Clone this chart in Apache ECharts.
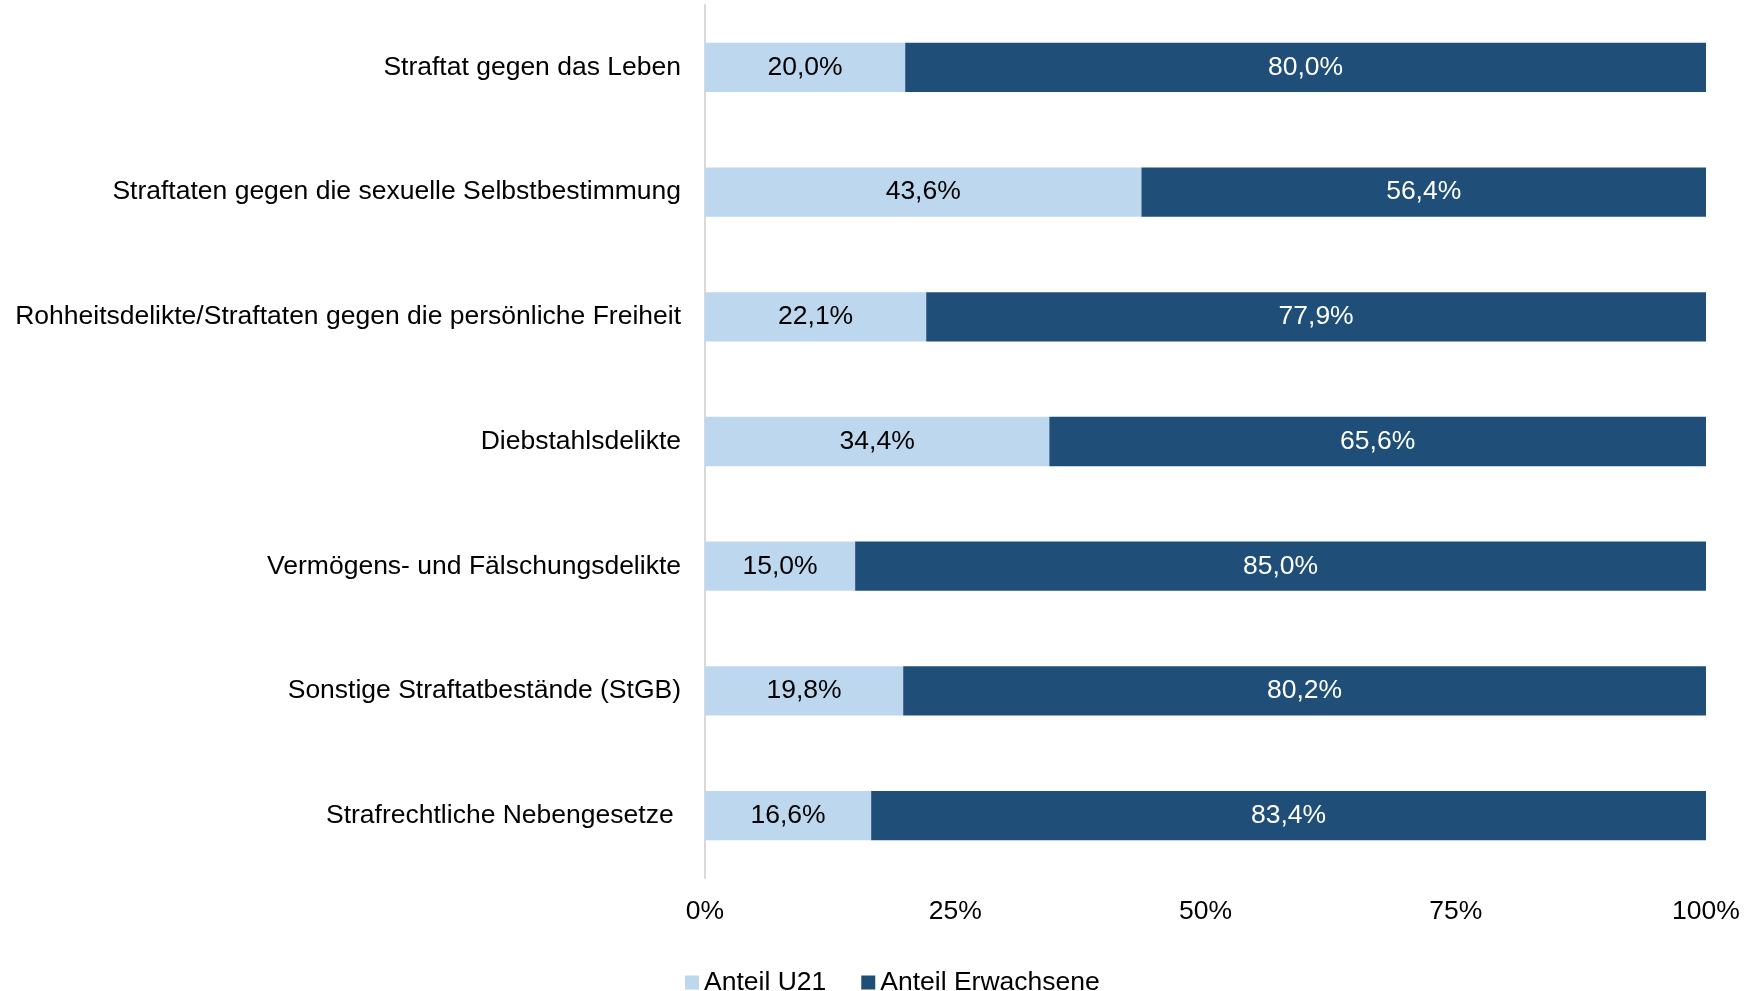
<!DOCTYPE html>
<html>
<head>
<meta charset="utf-8">
<script src="https://cdn.jsdelivr.net/npm/echarts@6/dist/echarts.min.js"></script>
<style>
html,body{margin:0;padding:0;background:#fff;}
#chart{width:1759px;height:991px;}
</style>
</head>
<body>
<div id="chart"></div>
<script>
const categories = [
  "Straftat gegen das Leben",
  "Straftaten gegen die sexuelle Selbstbestimmung",
  "Rohheitsdelikte/Straftaten gegen die persönliche Freiheit",
  "Diebstahlsdelikte",
  "Vermögens- und Fälschungsdelikte",
  "Sonstige Straftatbestände (StGB)",
  "Strafrechtliche Nebengesetze "
];
const anteilU21 = [20.0, 43.6, 22.1, 34.4, 15.0, 19.8, 16.6];
const anteilErwachsene = [80.0, 56.4, 77.9, 65.6, 85.0, 80.2, 83.4];
const seriesNames = ["Anteil U21", "Anteil Erwachsene"];

const FONT = "Liberation Sans, Arial, sans-serif";
const FS = 26.5;
const fmt = p => p.value.toFixed(1).replace('.', ',') + '%';

const chart = echarts.init(document.getElementById('chart'));
chart.setOption({
  animation: false,
  backgroundColor: '#ffffff',
  textStyle: { fontFamily: FONT },
  grid: { left: 705, right: 53, top: 5, bottom: 113, containLabel: false },
  legend: {
    data: seriesNames,
    bottom: -10,
    left: 680,
    itemWidth: 14,
    itemHeight: 14,
    itemGap: 35,
    icon: 'rect',
    textStyle: { fontFamily: FONT, fontSize: FS, color: '#000' }
  },
  xAxis: {
    type: 'value',
    min: 0, max: 100, interval: 25,
    axisLine: { show: false },
    axisTick: { show: false },
    splitLine: { show: false },
    axisLabel: { formatter: '{value}%', fontFamily: FONT, fontSize: FS, color: '#000', margin: 20 }
  },
  yAxis: {
    type: 'category',
    data: categories,
    inverse: true,
    axisLine: { show: true, lineStyle: { color: '#D9D9D9', width: 2 } },
    axisTick: { show: false },
    axisLabel: { fontFamily: FONT, fontSize: FS, color: '#000', margin: 24, padding: [8, 0, 0, 0] }
  },
  series: [
    {
      name: seriesNames[0], type: 'bar', stack: 'total',
      data: anteilU21,
      barCategoryGap: '60.5%',
      itemStyle: { color: '#BDD7EE' },
      label: { show: true, position: 'inside', formatter: fmt, fontFamily: FONT, fontSize: FS, color: '#000', padding: [8, 0, 0, 0] }
    },
    {
      name: seriesNames[1], type: 'bar', stack: 'total',
      data: anteilErwachsene,
      barCategoryGap: '60.5%',
      itemStyle: { color: '#1F4E79' },
      label: { show: true, position: 'inside', formatter: fmt, fontFamily: FONT, fontSize: FS, color: '#fff', padding: [8, 0, 0, 0] }
    }
  ]
});
</script>
</body>
</html>
